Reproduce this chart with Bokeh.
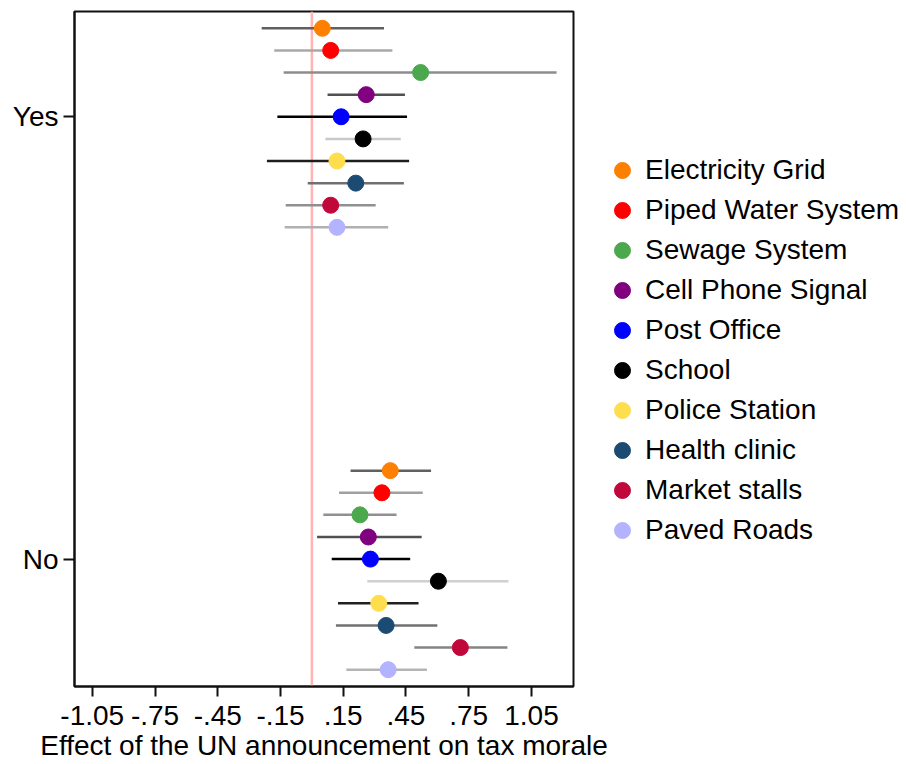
from bokeh.plotting import figure
from bokeh.models import (ColumnDataSource, Range1d, FixedTicker, Span,
                          Legend, LegendItem)
from bokeh.embed import file_html
from bokeh.resources import INLINE

# Treatment-effect estimates with confidence intervals, by infrastructure item
categories = ["Electricity Grid", "Piped Water System", "Sewage System",
              "Cell Phone Signal", "Post Office", "School", "Police Station",
              "Health clinic", "Market stalls", "Paved Roads"]
groups = ["Yes", "No"]

yes_est = [0.05, 0.09, 0.52, 0.26, 0.14, 0.245, 0.12, 0.21, 0.09, 0.12]
yes_lo = [-0.24, -0.18, -0.135, 0.075, -0.165, 0.065, -0.215, -0.02, -0.125, -0.13]
yes_hi = [0.345, 0.385, 1.17, 0.445, 0.455, 0.425, 0.465, 0.44, 0.305, 0.365]

no_est = [0.375, 0.335, 0.23, 0.27, 0.28, 0.605, 0.32, 0.355, 0.71, 0.365]
no_lo = [0.185, 0.13, 0.055, 0.025, 0.095, 0.265, 0.125, 0.115, 0.49, 0.165]
no_hi = [0.57, 0.53, 0.405, 0.525, 0.47, 0.94, 0.51, 0.6, 0.935, 0.55]

x_ticks = [-1.05, -0.75, -0.45, -0.15, 0.15, 0.45, 0.75, 1.05]
x_tick_labels = ["-1.05", "-.75", "-.45", "-.15", ".15", ".45", ".75", "1.05"]

# Styling
marker_colors = ["#ff7f00", "#ff0000", "#4ca84c", "#800080", "#0000ff",
                 "#000000", "#ffde4d", "#1b4a72", "#c0083a", "#b3b3ff"]
bar_colors_yes = ["#606060", "#a8a8a8", "#8c8c8c", "#505050", "#000000",
                  "#c8c8c8", "#1e1e1e", "#707070", "#909090", "#b0b0b0"]
bar_colors_no = ["#606060", "#a0a0a0", "#909090", "#505050", "#000000",
                 "#d0d0d0", "#202020", "#707070", "#848484", "#b4b4b4"]
FONT = "Liberation Sans"
group_pos = {"Yes": 1.0, "No": 0.0}
step = 0.05

p = figure(frame_width=499, frame_height=675,
           min_border_left=74, min_border_top=11,
           min_border_bottom=78, min_border_right=333,
           x_range=Range1d(-1.135, 1.251), y_range=Range1d(-0.288, 1.238),
           output_backend="svg", toolbar_location=None,
           background_fill_color="white", border_fill_color="white")

p.xgrid.visible = False
p.ygrid.visible = False
p.outline_line_color = "#111111"
p.outline_line_width = 2

# Reference line at zero effect
p.add_layout(Span(location=0, dimension="height", line_color="#ffb3b3",
                  line_width=2.5, level="underlay"))

items = []
for i, cat in enumerate(categories):
    off = (4 - i) * step
    src = ColumnDataSource(dict(
        y=[group_pos["Yes"] + off, group_pos["No"] + off],
        est=[yes_est[i], no_est[i]],
        lo=[yes_lo[i], no_lo[i]],
        hi=[yes_hi[i], no_hi[i]],
        bar=[bar_colors_yes[i], bar_colors_no[i]],
    ))
    p.segment(x0="lo", x1="hi", y0="y", y1="y", source=src,
              line_color="bar", line_width=2.5)
    r = p.scatter(x="est", y="y", source=src, size=16,
                  fill_color=marker_colors[i], line_color=marker_colors[i])
    items.append(LegendItem(label=cat, renderers=[r]))

legend = Legend(items=items, location=(29, 136),
                glyph_width=40, glyph_height=40, spacing=0, padding=0,
                margin=0, label_standoff=3,
                label_text_font=FONT, label_text_font_size="28px",
                label_text_color="black",
                border_line_color=None, background_fill_alpha=0)
p.add_layout(legend, "right")

# X axis
p.xaxis.ticker = FixedTicker(ticks=x_ticks)
p.xaxis.major_label_overrides = {t: l for t, l in zip(x_ticks, x_tick_labels)}
p.xaxis.minor_tick_line_color = None
p.xaxis.major_tick_out = 10
p.xaxis.major_tick_in = 0
p.xaxis.major_tick_line_width = 2
p.xaxis.major_tick_line_color = "#111111"
p.xaxis.axis_line_width = 2
p.xaxis.axis_line_color = "#111111"
p.xaxis.major_label_text_font = FONT
p.xaxis.major_label_text_font_size = "28px"
p.xaxis.major_label_text_color = "black"
p.xaxis.major_label_standoff = 9
p.xaxis.axis_label = "Effect of the UN announcement on tax morale"
p.xaxis.axis_label_text_font = FONT
p.xaxis.axis_label_text_font_size = "28px"
p.xaxis.axis_label_text_color = "black"
p.xaxis.axis_label_text_font_style = "normal"
p.xaxis.axis_label_standoff = 2

# Y axis
p.yaxis.ticker = FixedTicker(ticks=[group_pos[g] for g in groups])
p.yaxis.major_label_overrides = {group_pos[g]: g for g in groups}
p.yaxis.minor_tick_line_color = None
p.yaxis.major_tick_out = 11
p.yaxis.major_tick_in = 0
p.yaxis.major_tick_line_width = 2
p.yaxis.major_tick_line_color = "#111111"
p.yaxis.axis_line_width = 2
p.yaxis.axis_line_color = "#111111"
p.yaxis.major_label_text_font = FONT
p.yaxis.major_label_text_font_size = "28px"
p.yaxis.major_label_text_color = "black"
p.yaxis.major_label_standoff = 5

open("out.html", "w").write(file_html(p, INLINE))
